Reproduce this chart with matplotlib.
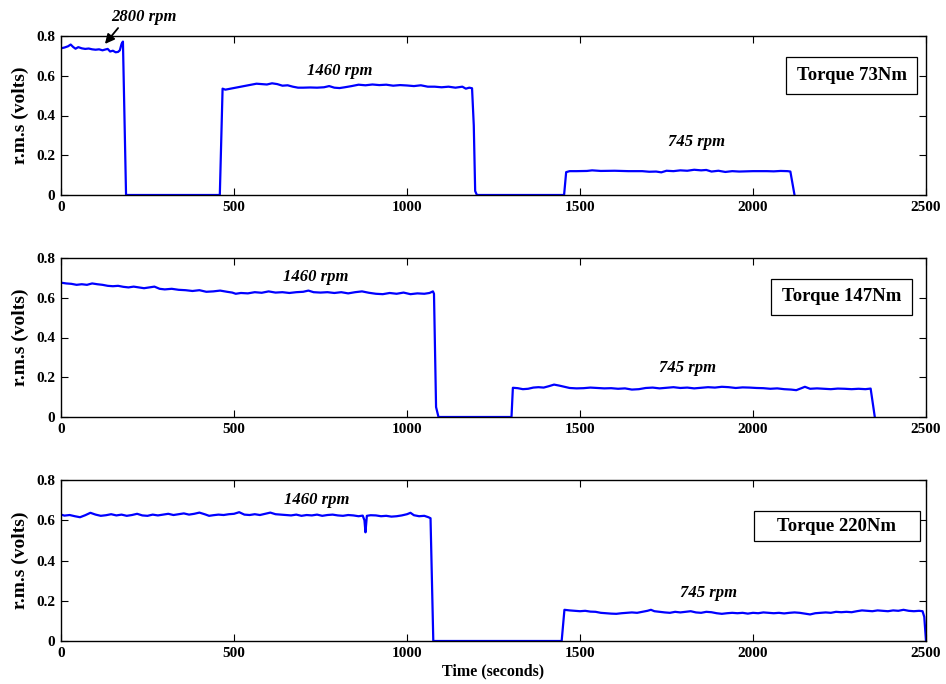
import matplotlib
matplotlib.use("Agg")
import matplotlib.pyplot as plt
from matplotlib.patches import Rectangle

plt.rcParams['font.family'] = ['Liberation Serif', 'DejaVu Serif']
plt.rcParams['font.weight'] = 'bold'

# ---------------- Data ----------------
# Panel 1: Torque 73Nm
t1 = [0, 10, 20, 28, 35, 42, 50, 60, 70, 80, 90, 100, 110, 120, 128, 135, 142, 150, 158, 165, 170, 175, 179, 188,
      459, 467, 475, 490, 505, 520, 535, 550, 565, 580, 595, 610, 625, 640, 655, 670, 685, 700, 720, 740, 760, 775,
      790, 805, 820, 840, 860, 880, 900, 920, 940, 960, 980, 1000, 1020, 1040, 1060, 1080, 1100, 1120, 1140, 1160,
      1170, 1180, 1188, 1193, 1197, 1202,
      1454, 1460, 1470, 1490, 1520, 1535, 1560, 1600, 1640, 1680, 1700, 1720, 1735, 1750, 1770, 1790, 1810, 1830,
      1850, 1865, 1880, 1900, 1920, 1940, 1960, 1980, 2000, 2020, 2040, 2060, 2080, 2100, 2108, 2120]
v1 = [.738, .742, .748, .757, .745, .736, .744, .738, .735, .737, .733, .731, .733, .728, .732, .735, .722, .726,
      .718, .72, .728, .76, .772, 0,
      0, .535, .53, .535, .54, .545, .55, .555, .56, .558, .556, .562, .558, .55, .552, .545, .54, .54, .541, .54,
      .542, .548, .54, .538, .542, .548, .555, .552, .556, .553, .555, .55, .553, .551, .548, .552, .545, .545,
      .542, .545, .54, .545, .535, .54, .537, .35, .02, 0,
      0, .115, .12, .12, .121, .124, .121, .122, .12, .12, .117, .118, .114, .122, .12, .124, .122, .127, .124,
      .126, .118, .122, .116, .12, .118, .119, .12, .12, .12, .119, .121, .12, .118, 0]

# Panel 2: Torque 147Nm
t2 = [0, 15, 30, 45, 60, 75, 90, 105, 120, 135, 150, 165, 180, 195, 210, 225, 240, 255, 270, 285, 300, 320, 340,
      360, 380, 400, 420, 440, 460, 480, 495, 505, 520, 540, 560, 580, 600, 620, 640, 660, 680, 700, 715, 730, 750,
      770, 790, 810, 830, 850, 870, 890, 910, 930, 950, 970, 990, 1010, 1030, 1050, 1065, 1075, 1078, 1084, 1091,
      1302, 1306, 1320, 1335, 1350, 1365, 1380, 1395, 1410, 1425, 1440, 1455, 1470, 1490, 1510, 1530, 1550, 1570,
      1590, 1610, 1630, 1650, 1670, 1690, 1710, 1730, 1750, 1770, 1790, 1810, 1830, 1850, 1870, 1890, 1910, 1930,
      1950, 1970, 1990, 2010, 2030, 2050, 2070, 2090, 2110, 2125, 2140, 2150, 2165, 2185, 2205, 2225, 2245, 2265,
      2285, 2305, 2325, 2340, 2352]
v2 = [.676, .672, .67, .665, .668, .665, .672, .668, .665, .66, .658, .66, .655, .652, .656, .652, .648, .652, .656,
      .645, .642, .645, .64, .638, .634, .638, .63, .632, .636, .63, .626, .62, .624, .622, .628, .625, .632, .626,
      .628, .624, .628, .63, .636, .628, .626, .628, .624, .628, .622, .628, .632, .625, .62, .618, .624, .62, .626,
      .618, .622, .62, .624, .632, .62, .05, 0,
      0, .147, .145, .14, .142, .148, .15, .148, .155, .163, .158, .152, .146, .144, .145, .148, .146, .144, .145,
      .142, .144, .138, .14, .146, .148, .144, .147, .15, .146, .148, .144, .147, .15, .148, .152, .15, .146, .149,
      .148, .146, .145, .142, .144, .14, .138, .135, .145, .152, .142, .144, .142, .14, .143, .142, .14, .142, .14,
      .143, 0]

# Panel 3: Torque 220Nm
t3 = [0, 10, 25, 40, 55, 70, 85, 100, 115, 130, 145, 160, 175, 190, 205, 220, 235, 250, 265, 280, 295, 310, 325,
      340, 355, 370, 385, 400, 415, 428, 440, 455, 470, 485, 500, 515, 530, 545, 560, 575, 590, 605, 620, 635, 650,
      665, 680, 695, 710, 725, 740, 755, 770, 785, 800, 815, 830, 845, 860, 872, 877, 880, 884, 895, 910, 925, 940,
      955, 970, 985, 1000, 1010, 1020, 1035, 1050, 1062, 1068, 1076,
      1447, 1455, 1470, 1485, 1500, 1515, 1530, 1545, 1560, 1575, 1590, 1605, 1620, 1635, 1650, 1665, 1680, 1695,
      1705, 1715, 1730, 1745, 1760, 1775, 1790, 1805, 1820, 1835, 1850, 1865, 1880, 1895, 1910, 1925, 1940, 1955,
      1970, 1985, 2000, 2015, 2030, 2045, 2060, 2075, 2090, 2105, 2120, 2135, 2150, 2165, 2180, 2195, 2210, 2225,
      2240, 2255, 2270, 2285, 2300, 2315, 2330, 2345, 2360, 2375, 2390, 2405, 2420, 2435, 2450, 2465, 2480, 2490,
      2495, 2500]
v3 = [.628, .623, .626, .62, .615, .625, .637, .628, .622, .625, .63, .624, .628, .622, .626, .632, .624, .622,
      .628, .624, .628, .632, .626, .63, .634, .628, .632, .638, .63, .622, .625, .628, .626, .63, .632, .64, .628,
      .626, .63, .626, .632, .638, .63, .628, .626, .624, .628, .622, .626, .624, .628, .622, .626, .628, .624,
      .622, .626, .624, .62, .623, .6, .54, .622, .625, .624, .62, .622, .618, .62, .624, .63, .637, .625, .62,
      .622, .615, .61, 0,
      0, .155, .152, .15, .148, .15, .146, .145, .14, .138, .136, .135, .138, .14, .142, .14, .145, .15, .155,
      .148, .145, .142, .14, .145, .142, .145, .148, .142, .14, .145, .143, .138, .135, .138, .14, .138, .14,
      .136, .14, .138, .142, .14, .138, .14, .137, .14, .142, .14, .136, .132, .138, .14, .142, .14, .145, .143,
      .145, .143, .148, .152, .15, .148, .152, .15, .148, .152, .15, .155, .15, .148, .15, .148, .12, 0]

torque_labels = ["Torque 73Nm", "Torque 147Nm", "Torque 220Nm"]
x_ticks = [0, 500, 1000, 1500, 2000, 2500]
y_ticks = [0, 0.2, 0.4, 0.6, 0.8]
y_tick_labels = ["0", "0.2", "0.4", "0.6", "0.8"]

# (text, x, y) annotations per panel
speed_notes = [
    [("1460 rpm", 806, 0.625), ("745 rpm", 1837, 0.268)],
    [("1460 rpm", 737, 0.704), ("745 rpm", 1812, 0.246)],
    [("1460 rpm", 740, 0.70), ("745 rpm", 1870, 0.24)],
]
# label boxes in axes-fraction coords: (x0, y0, x1, y1)
box_rects = [(0.838, 0.635, 0.990, 0.868),
             (0.821, 0.642, 0.984, 0.868),
             (0.801, 0.621, 0.993, 0.807)]

# ---------------- Figure ----------------
fig = plt.figure(figsize=(9.46, 6.84), dpi=100)
left, width = 61 / 946, (926 - 61) / 946
tops = [36, 258, 480]
bottoms = [195, 417, 641]

series = [(t1, v1), (t2, v2), (t3, v3)]
for i in range(3):
    ax = fig.add_axes([left, 1 - bottoms[i] / 684, width, (bottoms[i] - tops[i]) / 684])
    t, v = series[i]
    ax.plot(t, v, color=(0, 0, 1), lw=1.6)
    ax.set_xlim(0, 2500)
    ax.set_ylim(0, 0.8)
    ax.set_xticks(x_ticks)
    ax.set_xticklabels([str(x) for x in x_ticks], fontsize=11, fontweight='bold')
    ax.set_yticks(y_ticks)
    ax.set_yticklabels(y_tick_labels, fontsize=11, fontweight='bold')
    ax.tick_params(direction='in', top=True, right=True, length=5, width=0.8, pad=4)
    for s in ax.spines.values():
        s.set_linewidth(1.0)
    ax.set_ylabel("r.m.s (volts)", fontsize=14, fontweight='bold', labelpad=5)
    for txt, x, y in speed_notes[i]:
        ax.text(x, y, txt, ha='center', va='center', fontsize=12, fontweight='bold', style='italic')
    x0, y0, x1, y1 = box_rects[i]
    ax.add_patch(Rectangle((x0, y0), x1 - x0, y1 - y0, transform=ax.transAxes,
                           facecolor='white', edgecolor='black', lw=0.9, zorder=5))
    ax.text((x0 + x1) / 2, (y0 + y1) / 2, torque_labels[i], transform=ax.transAxes,
            ha='center', va='center', fontsize=13.5, fontweight='bold', zorder=6)
    if i == 0:
        ax.text(240, 0.897, "2800 rpm", ha='center', va='center', fontsize=12,
                fontweight='bold', style='italic', clip_on=False)
        ax.annotate("", xy=(127, 0.76), xytext=(165, 0.84), annotation_clip=False,
                    arrowprops=dict(arrowstyle='-|>', color='black', lw=1.3, mutation_scale=14,
                                    shrinkA=0, shrinkB=0))
    if i == 2:
        ax.set_xlabel("Time (seconds)", fontsize=11.5, fontweight='bold', labelpad=3)

fig.savefig("out.png", dpi=100)
